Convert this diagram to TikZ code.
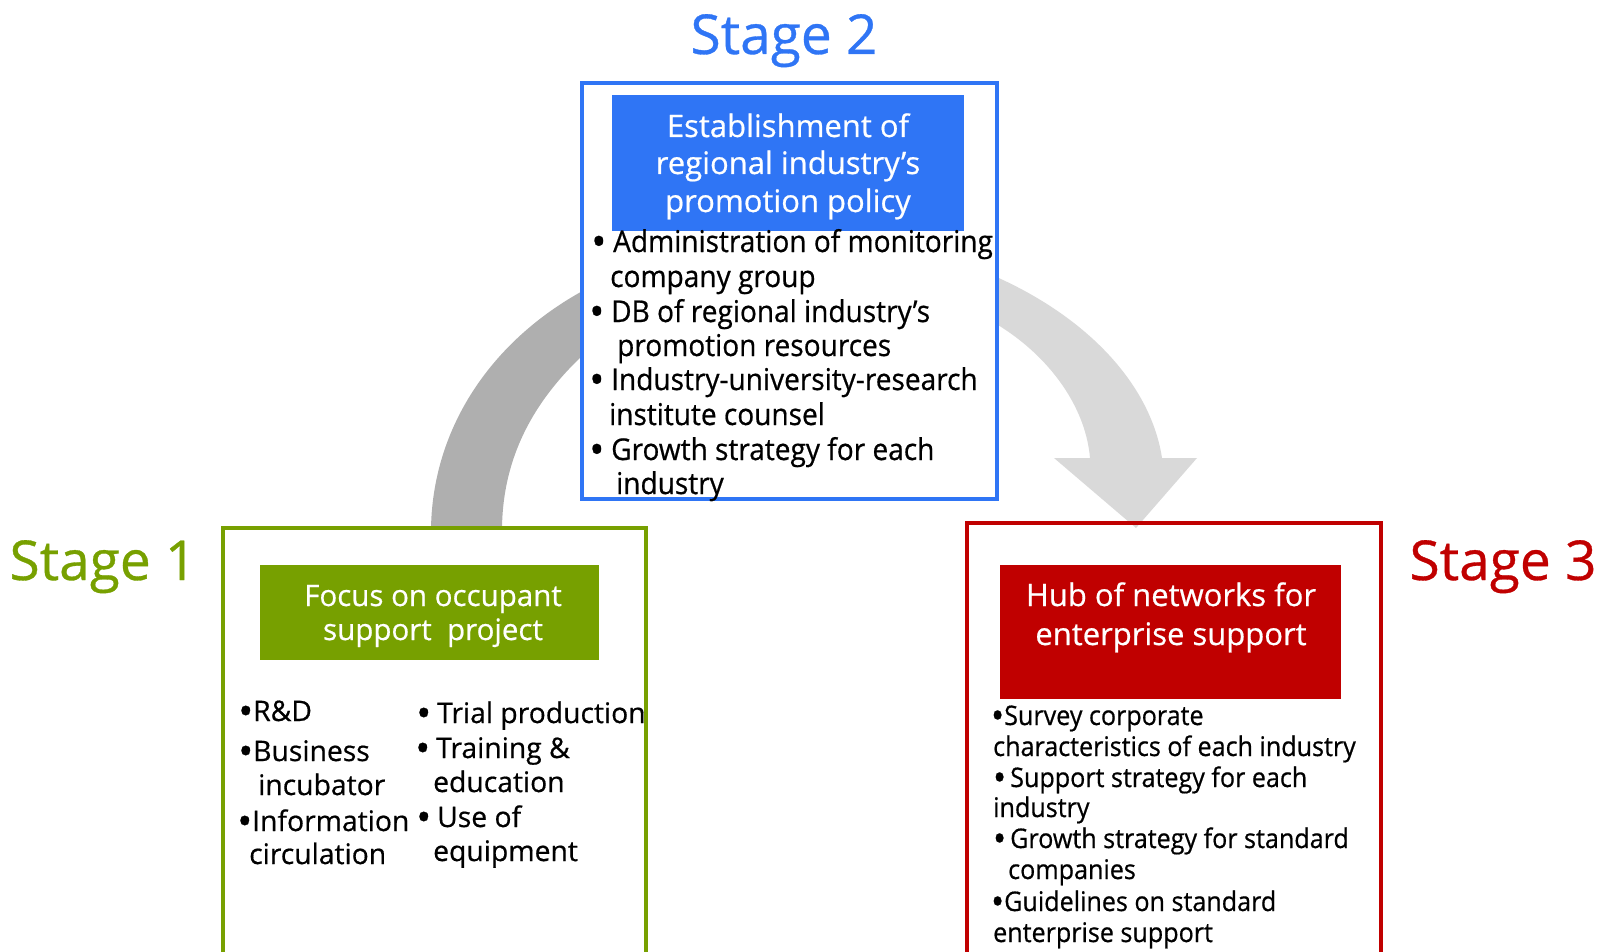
\documentclass[tikz,border=0pt]{standalone}
\usepackage{fontspec}
\setmainfont{Open Sans}[FakeBold=0.6]
\newfontfamily\slimface{Open Sans}[FakeStretch=0.935,FakeBold=0.6]
\newfontfamily\narrowface{Open Sans}[FakeStretch=0.93,FakeBold=0.6]
\newcommand\bdot{\raisebox{-0.14em}{\scalebox{1.4}{\textbullet}}}
\definecolor{stageblue}{RGB}{47,117,245}
\definecolor{stagegreen}{RGB}{119,160,0}
\definecolor{stagered}{RGB}{192,0,0}
\definecolor{arcdark}{RGB}{175,175,175}
\definecolor{arclight}{RGB}{217,217,217}
\tikzset{
  stagelbl/.style={font=\fontsize{55}{60}\selectfont, anchor=base, inner sep=0},
  headtxt/.style={text=white, anchor=base, inner sep=0},
  item/.style={anchor=base west, inner sep=0},
  frame/.style={line width=4pt, inner sep=0, outer sep=0, anchor=north west},
  band/.style={inner sep=0, outer sep=0, anchor=north west},
}

\begin{document}
\begin{tikzpicture}[x=1pt,y=-1pt]
\useasboundingbox (0,0) rectangle (1616,952);
\clip (0,0) rectangle (1616,952);
% curved arrows
\fill[arcdark] (431,528) .. controls (433,420) and (500,330) .. (600,282)
  -- (600,340) .. controls (540,390) and (503,450) .. (502,528) -- cycle;
\fill[arclight] (980,270) .. controls (1080,310) and (1150,380) .. (1162,458)
  -- (1197,458) -- (1136,528) -- (1054,458) -- (1090,458)
  .. controls (1085,400) and (1040,345) .. (980,315) -- cycle;
% boxes
\node[frame, draw=stageblue, fill=white, minimum width=415pt, minimum height=415pt] (box2) at (581.5,83.5) {};
\node[frame, draw=stagegreen, minimum width=423pt, minimum height=450pt] (box1) at (223,528) {};
\node[frame, draw=stagered, minimum width=414pt, minimum height=460pt] (box3) at (967,523) {};
\node[band, fill=stageblue, minimum width=352pt, minimum height=136pt] (head2) at (612,95) {};
\node[band, fill=stagegreen, minimum width=339pt, minimum height=95pt] (head1) at (260,565) {};
\node[band, fill=stagered, minimum width=341pt, minimum height=134pt] (head3) at (1000,565) {};
% stage labels
\node[stagelbl, text=stageblue] (st2) at (784,54) {Stage 2};
\node[stagelbl, text=stagegreen] (st1) at (103,580) {Stage 1};
\node[stagelbl, text=stagered] (st3) at (1503,580) {Stage 3};
% header texts
\foreach \ty/\txt [count=\i] in {137/{Establishment of}, 174/{regional industry’s}, 212/{promotion policy}}
  \node[headtxt, font=\fontsize{31}{38}\selectfont] (h2-\i) at (788,\ty) {\txt};
\foreach \ty/\txt [count=\i] in {606/{Focus on occupant}, 640/{support~ project}}
  \node[headtxt, font=\fontsize{29.5}{36}\selectfont] (h1-\i) at (433,\ty) {\txt};
\foreach \ty/\txt [count=\i] in {606/{Hub of networks for}, 645/{enterprise support}}
  \node[headtxt, font=\fontsize{31}{38}\selectfont] (h3-\i) at (1171,\ty) {\txt};
% stage 2 items
\foreach \tx/\ty/\txt [count=\i] in {
  613/252/{\llap{\bdot\hspace{7pt}}Administration of monitoring},
  610/287/{company group},
  611/322/{\llap{\bdot\hspace{7pt}}DB of regional industry’s},
  617/356/{promotion resources},
  611/390/{\llap{\bdot\hspace{7pt}}Industry-university-research},
  609/425/{institute counsel},
  611/460/{\llap{\bdot\hspace{7pt}}Growth strategy for each},
  616/494/{industry}}
  \node[item, font=\slimface\fontsize{30}{34}\selectfont] (it2-\i) at (\tx,\ty) {\txt};
% stage 1 items
\foreach \tx/\ty/\txt [count=\i] in {
  253/721/{\llap{\bdot}R\&D},
  253/761/{\llap{\bdot}Business},
  258/795/{incubator},
  252/831/{\llap{\bdot}Information},
  249/864/{circulation},
  437/723/{\llap{\bdot\hspace{6pt}}Trial production},
  436/758/{\llap{\bdot\hspace{6pt}}Training \&},
  433/792/{education},
  437/827/{\llap{\bdot\hspace{6pt}}Use of},
  433/861/{equipment}}
  \node[item, font=\fontsize{28.3}{34}\selectfont] (it1-\i) at (\tx,\ty) {\txt};
% stage 3 items
\foreach \tx/\ty/\txt [count=\i] in {
  1004/725/{\llap{\bdot}Survey corporate},
  993/756/{characteristics of each industry},
  1010/787/{\llap{\bdot\hspace{4pt}}Support strategy for each},
  993/817/{industry},
  1010/848/{\llap{\bdot\hspace{4pt}}Growth strategy for standard},
  1008/879/{companies},
  1004/911/{\llap{\bdot}Guidelines on standard},
  993/942/{enterprise support}}
  \node[item, font=\narrowface\fontsize{27}{31}\selectfont] (it3-\i) at (\tx,\ty) {\txt};
\end{tikzpicture}
\end{document}
